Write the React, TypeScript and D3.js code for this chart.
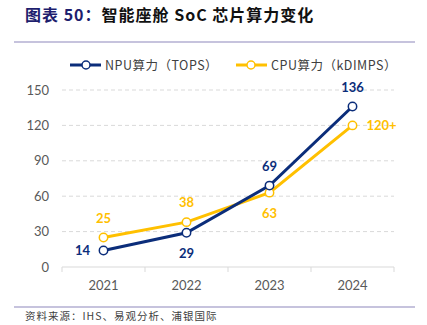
import React from "react";
import * as d3 from "d3";

const years = ["2021", "2022", "2023", "2024"];
const npuValues = [14, 29, 69, 136];
const cpuValues = [25, 38, 63, 120];
const npuLabels = ["14", "29", "69", "136"];
const cpuLabels = ["25", "38", "63", "120+"];
const yTicks = [0, 30, 60, 90, 120, 150];

const NAVY = "#0B2D7A";
const GOLD = "#FFC000";

export default function App() {
  const W = 427, H = 325;
  const x = d3.scaleBand<string>().domain(years).range([62, 394]);
  const y = d3.scaleLinear().domain([0, 150]).range([267, 90]);
  const cx = (d: string) => (x(d) as number) + x.bandwidth() / 2;
  const line = d3.line<number>().x((_, i) => cx(years[i])).y((v) => y(v));
  const font = "Lato, 'Open Sans', 'Noto Sans CJK SC', sans-serif";

  const npuPos: [number, number, string][] = [[-21, 5, "middle"], [0, 25, "middle"], [0, -15, "middle"], [0, -15, "middle"]];
  const cpuPos: [number, number, string][] = [[0, -15, "middle"], [0, -15, "middle"], [0, 25, "middle"], [14, 5, "start"]];

  return (
    <svg width={W} height={H} style={{ position: "absolute", left: 0, top: 0, background: "#fff" }}>
      <text x={25} y={21} fontFamily="'Noto Sans CJK SC', sans-serif" fontSize={16} fontWeight="bold" letterSpacing={1}>
        <tspan fill="#1E1E6E">图表 50：</tspan>
        <tspan fill="#111">智能座舱 SoC 芯片算力变化</tspan>
      </text>
      <line x1={14} x2={415} y1={42} y2={42} stroke="#8E88BC" strokeWidth={1.2} />

      <g fontFamily="'Noto Sans CJK SC', sans-serif" fontSize={12.5} fill="#404040">
        <line x1={70} x2={101} y1={65} y2={65} stroke={NAVY} strokeWidth={3} />
        <circle cx={86} cy={65} r={4} fill="#fff" stroke={NAVY} strokeWidth={1.5} />
        <text x={105} y={69.5} letterSpacing={0.5}>NPU算力（TOPS）</text>
        <line x1={236} x2={267} y1={65} y2={65} stroke={GOLD} strokeWidth={3} />
        <circle cx={251} cy={65} r={4} fill="#fff" stroke={GOLD} strokeWidth={1.5} />
        <text x={271} y={69.5} letterSpacing={0.5}>CPU算力（kDIMPS）</text>
      </g>

      {yTicks.map((t) => (
        <g key={t}>
          {t > 0 && (
            <line x1={62} x2={394} y1={y(t)} y2={y(t)} stroke="#D9D9D9" strokeWidth={1} strokeDasharray="4,3" />
          )}
          <text x={49} y={y(t) + 4.5} textAnchor="end" fontFamily={font} fontSize={13} fill="#595959">
            {t}
          </text>
        </g>
      ))}
      <line x1={62} x2={394} y1={267} y2={267} stroke="#D9D9D9" strokeWidth={1} />
      {[...years.map((d) => x(d) as number), 394].map((px, i) => (
        <line key={i} x1={px} x2={px} y1={267} y2={272} stroke="#D9D9D9" strokeWidth={1} />
      ))}
      {years.map((d) => (
        <text key={d} x={cx(d)} y={290} textAnchor="middle" fontFamily={font} fontSize={13} fill="#595959">
          {d}
        </text>
      ))}

      <path d={line(cpuValues) || ""} fill="none" stroke={GOLD} strokeWidth={3} />
      <path d={line(npuValues) || ""} fill="none" stroke={NAVY} strokeWidth={3} />
      {cpuValues.map((v, i) => (
        <circle key={"c" + i} cx={cx(years[i])} cy={y(v)} r={4.2} fill="#fff" stroke={GOLD} strokeWidth={1.5} />
      ))}
      {npuValues.map((v, i) => (
        <circle key={"n" + i} cx={cx(years[i])} cy={y(v)} r={4.2} fill="#fff" stroke={NAVY} strokeWidth={1.5} />
      ))}
      {cpuValues.map((v, i) => (
        <text key={"cl" + i} x={cx(years[i]) + cpuPos[i][0]} y={y(v) + cpuPos[i][1]} textAnchor={cpuPos[i][2] as any}
          fontFamily={font} fontSize={13} fontWeight="bold" fill={GOLD}>
          {cpuLabels[i]}
        </text>
      ))}
      {npuValues.map((v, i) => (
        <text key={"nl" + i} x={cx(years[i]) + npuPos[i][0]} y={y(v) + npuPos[i][1]} textAnchor={npuPos[i][2] as any}
          fontFamily={font} fontSize={13} fontWeight="bold" fill={NAVY}>
          {npuLabels[i]}
        </text>
      ))}

      <line x1={14} x2={415} y1={307} y2={307} stroke="#8E88BC" strokeWidth={1.2} />
      <text x={25} y={320} fontFamily="'Noto Sans CJK SC', sans-serif" fontSize={10.5} fill="#404040" letterSpacing={1}>
        资料来源：IHS、易观分析、浦银国际
      </text>
    </svg>
  );
}
